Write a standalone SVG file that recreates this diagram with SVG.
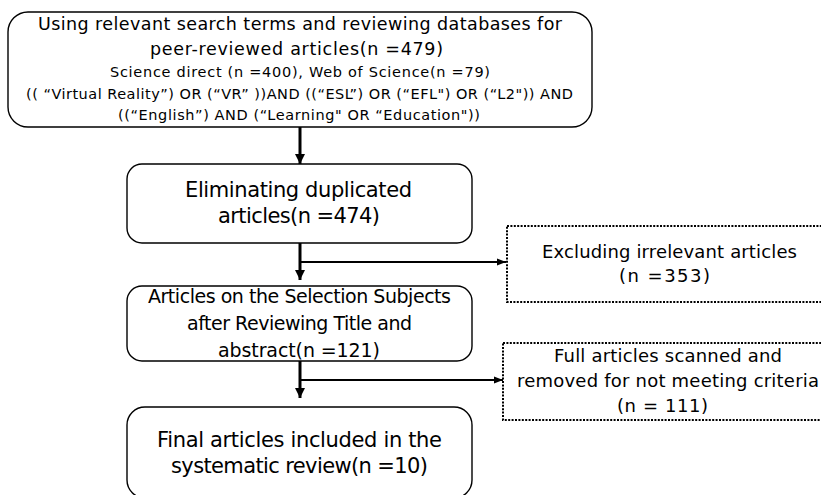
<svg xmlns="http://www.w3.org/2000/svg" width="821" height="495" viewBox="0 0 821 495">
<defs>
<style>
.box{fill:#fff;stroke:#000;stroke-width:1.4}
.dot{fill:#fff;stroke:#000;stroke-width:2;stroke-dasharray:2 1.4}
text{font-family:"DejaVu Sans","Noto Sans",sans-serif;fill:#000;text-anchor:middle}
.c{fill:none;stroke:#000}
</style>
<marker id="av" markerUnits="userSpaceOnUse" markerWidth="10" markerHeight="10" refX="10" refY="5" orient="auto"><path d="M0,0 L10,5 L0,10 Z" fill="#000"/></marker>
<marker id="ah" markerUnits="userSpaceOnUse" markerWidth="9" markerHeight="8" refX="9" refY="4" orient="auto"><path d="M0,0.5 L9,4 L0,7.5 Z" fill="#000"/></marker>
</defs>
<g id="connectors">
<path class="c" stroke-width="3" d="M300,127 V164" marker-end="url(#av)"/>
<path class="c" stroke-width="3" d="M300,243 V280" marker-end="url(#av)"/>
<path class="c" stroke-width="2" d="M300,262 H506" marker-end="url(#ah)"/>
<path class="c" stroke-width="3" d="M300,361 V398" marker-end="url(#av)"/>
<path class="c" stroke-width="2" d="M300,380 H503" marker-end="url(#ah)"/>
</g>
<g id="n1">
<rect class="box" x="8" y="12" width="584" height="115" rx="20"/>
<text x="300" y="30" font-size="17.5" textLength="524">Using relevant search terms and reviewing databases for</text>
<text x="296.5" y="55" font-size="17.5" textLength="293">peer-reviewed articles(n =479)</text>
<text x="300" y="77" font-size="14.5" textLength="380">Science direct (n =400), Web of Science(n =79)</text>
<text x="299.5" y="99" font-size="14.5" textLength="547">(( “Virtual Reality”) OR (“VR” ))AND ((“ESL”) OR (“EFL") OR (“L2")) AND</text>
<text x="299" y="120" font-size="14.5" textLength="362">((“English”) AND (“Learning" OR “Education"))</text>
</g>
<g id="n2">
<rect class="box" x="127" y="164" width="345" height="79" rx="15"/>
<text x="298.5" y="197" font-size="21" textLength="227">Eliminating duplicated</text>
<text x="299" y="223" font-size="21" textLength="162">articles(n =474)</text>
</g>
<g id="n3">
<rect class="box" x="127" y="286" width="345" height="75" rx="15"/>
<text x="299.5" y="303" font-size="19" textLength="303">Articles on the Selection Subjects</text>
<text x="299.5" y="330" font-size="19" textLength="225">after Reviewing Title and</text>
<text x="299" y="357" font-size="19" textLength="162">abstract(n =121)</text>
</g>
<g id="n4">
<rect class="box" x="127" y="407" width="345" height="91" rx="18"/>
<text x="299.5" y="447" font-size="21" textLength="285">Final articles included in the</text>
<text x="299.5" y="473" font-size="21" textLength="257">systematic review(n =10)</text>
</g>
<g id="n5">
<rect class="dot" x="507" y="226" width="330" height="76"/>
<text x="669.5" y="258" font-size="18" textLength="255">Excluding irrelevant articles</text>
<text x="664.5" y="282" font-size="18" textLength="91">(n =353)</text>
</g>
<g id="n6">
<rect class="dot" x="503" y="343" width="334" height="77"/>
<text x="668" y="362" font-size="18" textLength="228">Full articles scanned and</text>
<text x="668" y="387" font-size="18" textLength="302">removed for not meeting criteria</text>
<text x="662.5" y="412" font-size="18" textLength="91">(n = 111)</text>
</g>
</svg>
